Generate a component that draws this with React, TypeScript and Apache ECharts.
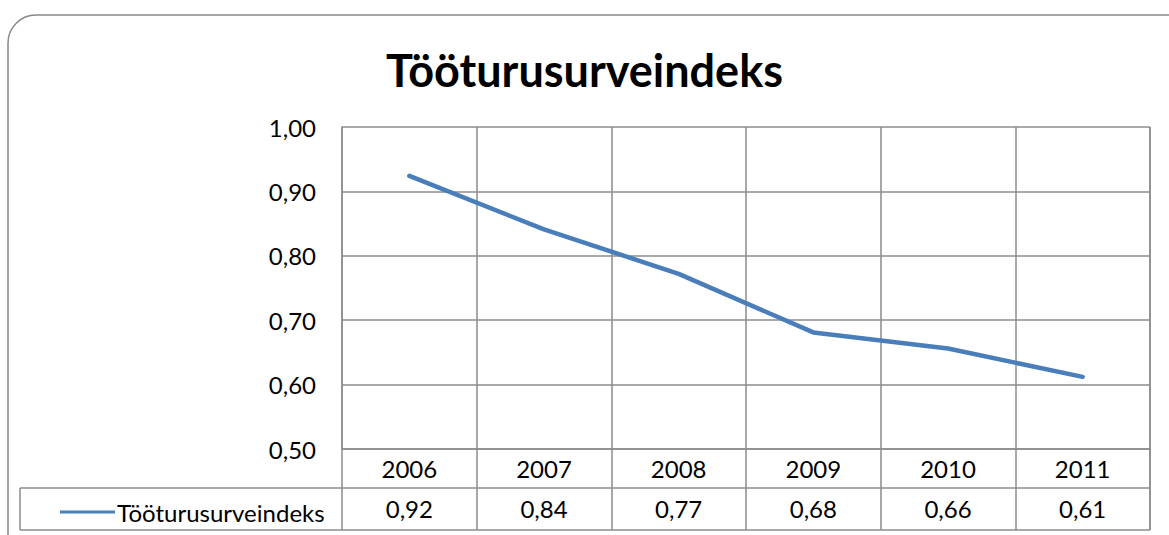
import React, { useEffect, useRef } from "react";
import * as echarts from "echarts";

const title = "Tööturusurveindeks";
const seriesName = "Tööturusurveindeks";
const years = ["2006", "2007", "2008", "2009", "2010", "2011"];
const values = [0.924, 0.841, 0.772, 0.681, 0.656, 0.612];
const yTicks = { min: 0.5, max: 1.0, interval: 0.1 };

const fmt = (v: number) => v.toFixed(2).replace(".", ",");
const FONT = "Lato";
const GRIDC = "#8c8c8c";
const FS = 24;

export default function App() {
  const ref = useRef<HTMLDivElement>(null);
  useEffect(() => {
    document.body.style.margin = "0";
    const chart = echarts.init(ref.current!, undefined, { renderer: "svg" });
    const W = 1169;
    const gridLeft = 342;
    const gridRight = 19;
    const gridTop = 127;
    const gridBottom = 86;
    const plotBottom = 535 - gridBottom;
    const row1 = plotBottom + 39;
    const row2 = plotBottom + 81;
    const lineStyle = { stroke: GRIDC, lineWidth: 1.5 };
    chart.setOption({
      animation: false,
      backgroundColor: "#fff",
      title: {
        text: title,
        left: "center",
        top: 42,
        textStyle: { fontFamily: FONT, fontWeight: "bold", fontSize: 45, color: "#000" },
      },
      legend: {
        show: true,
        left: 55,
        top: row1 + 7,
        itemWidth: 55,
        itemHeight: 14,
        itemGap: 0,
        textStyle: { fontFamily: FONT, fontSize: FS, color: "#000", padding: [0, 0, 0, -3] },
        data: [{ name: seriesName, icon: "path://M0,5.5 L55,5.5 L55,8.5 L0,8.5 Z" }],
      },
      grid: { left: gridLeft, right: gridRight, top: gridTop, bottom: gridBottom },
      xAxis: [
        {
          type: "category",
          data: years,
          boundaryGap: true,
          position: "bottom",
          axisLine: { show: true, lineStyle: { color: GRIDC, width: 1.5 } },
          axisTick: { show: true, inside: false, length: 81, interval: 0, lineStyle: { color: GRIDC, width: 1.5 } },
          splitLine: { show: true, interval: 0, lineStyle: { color: GRIDC, width: 1.5 } },
          axisLabel: { margin: 7, fontFamily: FONT, fontSize: FS, color: "#000", interval: 0 },
        },
        {
          type: "category",
          data: values.map(fmt),
          boundaryGap: true,
          position: "bottom",
          offset: 39,
          axisLine: { show: false },
          axisTick: { show: false },
          splitLine: { show: false },
          axisLabel: { margin: 8, fontFamily: FONT, fontSize: FS, color: "#000", interval: 0 },
        },
      ],
      yAxis: {
        type: "value",
        min: yTicks.min,
        max: yTicks.max,
        interval: yTicks.interval,
        axisLine: { show: true, lineStyle: { color: GRIDC, width: 1.5 } },
        axisTick: { show: false },
        splitLine: { show: true, lineStyle: { color: GRIDC, width: 1.5 } },
        axisLabel: { margin: 26, fontFamily: FONT, fontSize: FS, color: "#000", formatter: (v: number) => fmt(v) },
      },
      series: [
        {
          name: seriesName,
          type: "line",
          xAxisIndex: 0,
          data: values,
          symbol: "none",
          lineStyle: { color: "#4a7ebb", width: 4.5, cap: "round", join: "round" },
          itemStyle: { color: "#4a7ebb" },
        },
      ],
      graphic: [
        {
          type: "rect",
          shape: { x: 8, y: 15, width: 1250, height: 700, r: 28 },
          style: { fill: "none", stroke: "#888", lineWidth: 1.5 },
          silent: true,
          z: 0,
        },
        { type: "line", shape: { x1: 20, y1: row1, x2: W - gridRight, y2: row1 }, style: lineStyle },
        { type: "line", shape: { x1: 20, y1: row2, x2: W - gridRight, y2: row2 }, style: lineStyle },
        { type: "line", shape: { x1: 20, y1: row1, x2: 20, y2: row2 }, style: lineStyle },
        { type: "line", shape: { x1: W - gridRight, y1: gridTop, x2: W - gridRight, y2: row2 }, style: lineStyle },
      ],
    });
    return () => chart.dispose();
  }, []);
  return <div ref={ref} style={{ position: "absolute", left: 0, top: 0, width: 1169, height: 535 }} />;
}
